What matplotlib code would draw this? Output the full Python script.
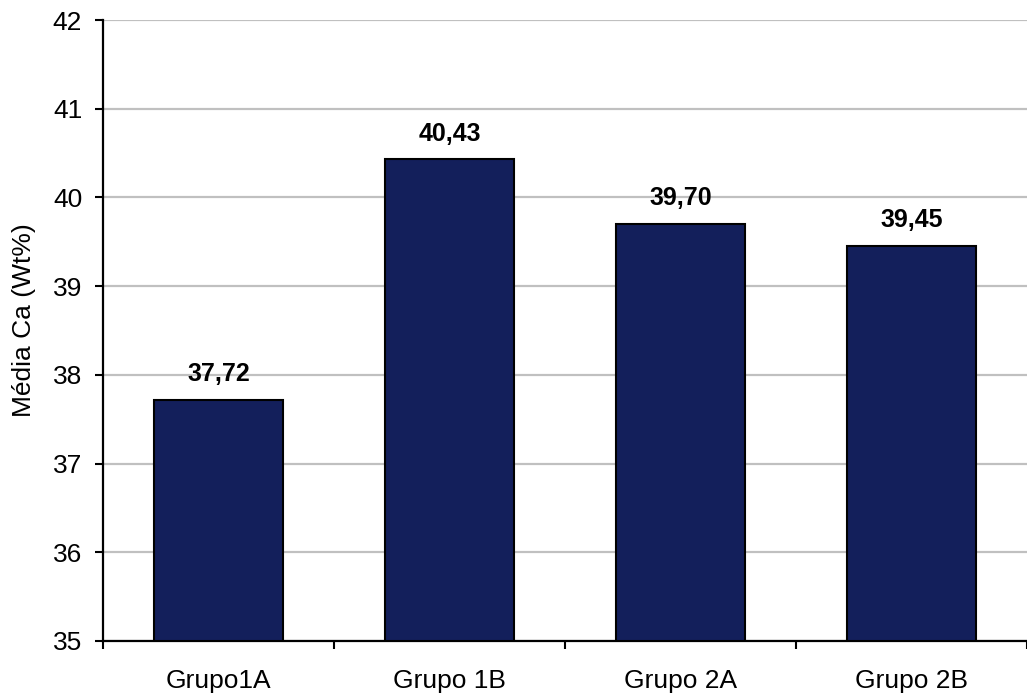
import matplotlib
matplotlib.use("Agg")
import matplotlib.pyplot as plt

groups = ["Grupo1A", "Grupo 1B", "Grupo 2A", "Grupo 2B"]
means = [37.72, 40.43, 39.70, 39.45]
value_labels = ["37,72", "40,43", "39,70", "39,45"]
y_ticks = [35, 36, 37, 38, 39, 40, 41, 42]

plt.rcParams["font.family"] = ["Liberation Sans", "DejaVu Sans"]

fig = plt.figure(figsize=(10.27, 6.97), dpi=100)
W, H = 1027, 697
ax = fig.add_axes([103 / W, (H - 641) / H, (1027 - 103) / W, (641 - 20) / H])

x = list(range(len(groups)))
ax.bar(x, [m - 35 for m in means], bottom=35, width=0.56,
       color="#131F5B", edgecolor="black", linewidth=1.5, zorder=3)

for xi, m, lab in zip(x, means, value_labels):
    ax.annotate(lab, (xi, m), xytext=(0, 13.5), textcoords="offset points",
                ha="center", va="baseline", fontsize=18, fontweight="bold",
                zorder=4)

ax.set_xlim(-0.5, len(groups) - 0.5)
ax.set_ylim(35, 42)
ax.set_yticks(y_ticks)
ax.set_yticklabels([str(t) for t in y_ticks], fontsize=19)
ax.yaxis.grid(True, color="#C0C0C0", linewidth=1.6, zorder=0)
ax.set_axisbelow(True)

ax.set_xticks(x)
ax.set_xticklabels(groups, fontsize=19)
ax.tick_params(axis="x", length=0, pad=20)
ax.set_xticks([i + 0.5 for i in range(-1, len(groups))], minor=True)
ax.tick_params(axis="x", which="minor", length=6, width=1.5, direction="out")
ax.tick_params(axis="y", length=6, width=1.5, direction="out", pad=9)

ax.set_ylabel("Média Ca (Wt%)", fontsize=19)
ax.yaxis.set_label_coords((36 - 103) / 924, 0.517)

for s in ("top", "right"):
    ax.spines[s].set_visible(False)
for s in ("left", "bottom"):
    ax.spines[s].set_linewidth(1.6)

fig.savefig("out.png", dpi=100)
